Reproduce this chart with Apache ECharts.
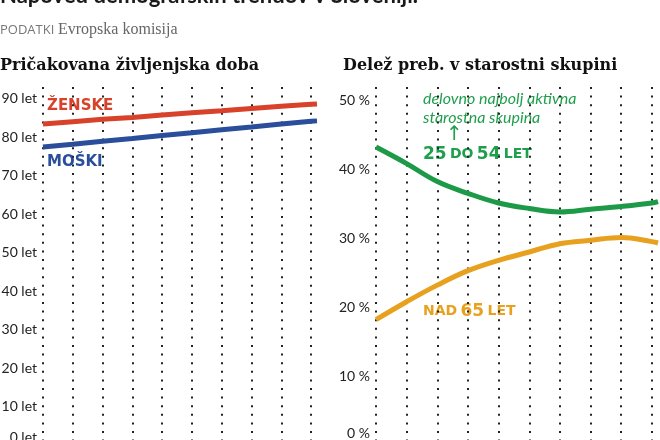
<!DOCTYPE html>
<html><head><meta charset="utf-8">
<script src="https://cdn.jsdelivr.net/npm/echarts@6/dist/echarts.min.js"></script>
<style>html,body{margin:0;padding:0;background:#fff}#c{width:660px;height:440px}</style>
</head><body><div id="c"></div>
<script>
// ---- data ----
var years = [2015, 2020, 2025, 2030, 2035, 2040, 2045, 2050, 2055, 2060, 2061];
var zenske = [83.4, 84.0, 84.6, 85.1, 85.7, 86.3, 86.8, 87.4, 88.0, 88.5, 88.6];
var moski  = [77.4, 78.1, 78.9, 79.6, 80.4, 81.1, 81.9, 82.6, 83.4, 84.1, 84.2];
var delez25_54 = [43.3, 40.9, 38.3, 36.6, 35.2, 34.4, 33.9, 34.3, 34.7, 35.2, 35.4];
var nad65      = [18.3, 20.9, 23.3, 25.4, 26.9, 28.1, 29.3, 29.8, 30.2, 29.6, 29.4];
var leftTicks = [0, 10, 20, 30, 40, 50, 60, 70, 80, 90];
var rightTicks = [0, 10, 20, 30, 40, 50];

function pairs(xs, ys){ return ys.map(function(v,i){ return [xs[i], v]; }); }

var dotLine = { show: true, showMaxLine: false, lineStyle: { color: '#222', width: 2, type: [2, 6.6] } };
function xAx(gi){
  return { type: 'value', gridIndex: gi, min: 2015, max: 2061, interval: 5,
    axisLine: {show:false}, axisTick:{show:false}, axisLabel:{show:false}, splitLine: dotLine };
}
function yAx(gi, max, unit, zeroLift){
  return { type: 'value', gridIndex: gi, min: 0, max: max, interval: 10,
    axisLine:{show:false}, axisTick:{show:false}, splitLine:{show:false},
    axisLabel:{ showMaxLabel:false, margin: 6, color:'#222', fontFamily:'Lato', fontSize:14,
      formatter: function(v){ return v === 0 ? '{z|' + v + unit + '}' : v + unit; },
      rich: { z: { fontFamily:'Lato', fontSize:14, color:'#222', padding:[0,0,zeroLift,0] } } } };
}

var chart = echarts.init(document.getElementById('c'), null, {renderer:'canvas'});
chart.setOption({
  animation: false,
  grid: [
    { left: 43, top: 87, width: 274, height: 358, outerBoundsMode: 'none', containLabel: false },
    { left: 376, top: 87, width: 282, height: 359, outerBoundsMode: 'none', containLabel: false }
  ],
  xAxis: [xAx(0), xAx(1)],
  yAxis: [
    yAx(0, 93, ' let', 16),
    yAx(1, 52, ' %', 26)
  ],
  series: [
    { type:'line', xAxisIndex:0, yAxisIndex:0, data: pairs(years, zenske), showSymbol:false, lineStyle:{color:'#d8412a', width:5} },
    { type:'line', xAxisIndex:0, yAxisIndex:0, data: pairs(years, moski), showSymbol:false, lineStyle:{color:'#2a4e9b', width:5} },
    { type:'line', xAxisIndex:1, yAxisIndex:1, data: pairs(years, delez25_54), smooth:0.4, showSymbol:false, lineStyle:{color:'#1d9a48', width:5} },
    { type:'line', xAxisIndex:1, yAxisIndex:1, data: pairs(years, nad65), smooth:0.4, showSymbol:false, lineStyle:{color:'#e8a11f', width:5} }
  ],
  graphic: [
    { type:'text', left:0, top:-15, style:{ text:'Napoved demografskih trendov v Sloveniji.', font:'bold 22px Lato', fill:'#1a1a1a' } },
    { type:'text', left:0, top:24, style:{ text:'PODATKI', font:'13px "Open Sans"', fill:'#777' } },
    { type:'text', left:58, top:22, style:{ text:'Evropska komisija', font:'16px "Liberation Serif"', fill:'#666' } },
    { type:'text', left:0, top:58, style:{ text:'Pričakovana življenjska doba', font:'bold 16px "DejaVu Serif"', fill:'#111' } },
    { type:'text', left:343, top:58, style:{ text:'Delež preb. v starostni skupini', font:'bold 16px "DejaVu Serif"', fill:'#111' } },
    { type:'text', left:47, top:99, style:{ text:'ŽENSKE', font:'bold 15px "DejaVu Sans"', fill:'#d8412a' } },
    { type:'text', left:47, top:155, style:{ text:'MOŠKI', font:'bold 15px "DejaVu Sans"', fill:'#2a4e9b' } },
    { type:'text', left:423, top:89, style:{ text:'delovno najbolj aktivna\nstarostna skupina', font:'italic 16px Lato', lineHeight:19, fill:'#1f9e4c' } },
    { type:'text', left:446, top:125, style:{ text:'↑', font:'20px "DejaVu Sans"', fill:'#1f9e4c' } },
    { type:'text', left:423, top:146, style:{ text:'{n|25} {l|DO} {n|54} {l|LET}', fill:'#1f9e4c',
        rich:{ n:{ font:'bold 17px "DejaVu Sans"', fill:'#1f9e4c' }, l:{ font:'bold 14px "DejaVu Sans"', fill:'#1f9e4c' } } } },
    { type:'text', left:423, top:303, style:{ text:'{l|NAD} {n|65} {l|LET}', fill:'#e8a11f',
        rich:{ n:{ font:'bold 17px "DejaVu Sans"', fill:'#e8a11f' }, l:{ font:'bold 14px "DejaVu Sans"', fill:'#e8a11f' } } } }
  ]
});
</script></body></html>
